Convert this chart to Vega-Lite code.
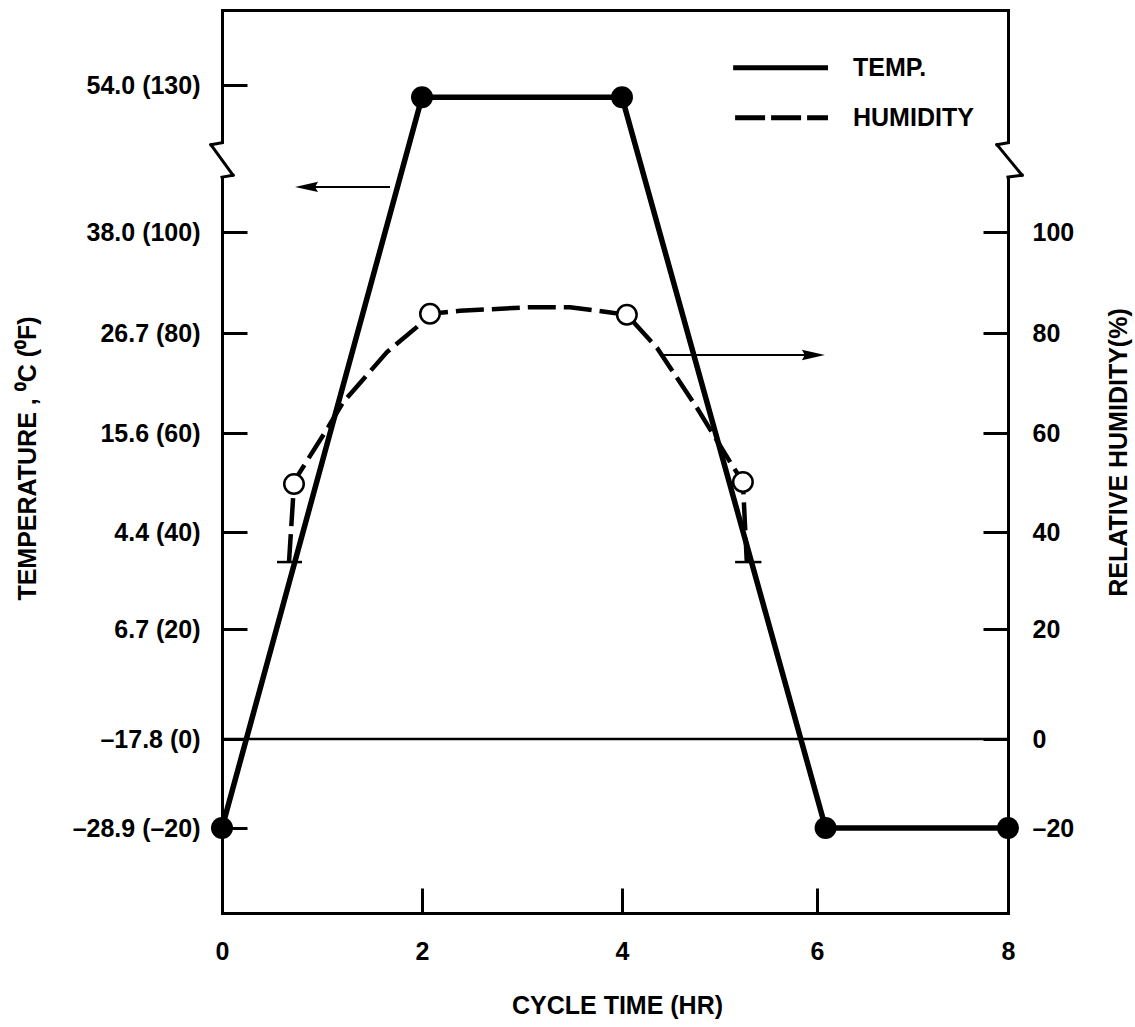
{
  "$schema": "https://vega.github.io/schema/vega-lite/v6.json",
  "width": 786,
  "height": 903,
  "autosize": {"type": "none"},
  "padding": {"left": 222, "top": 10, "right": 127, "bottom": 114},
  "background": "white",
  "config": {
    "view": {"stroke": null},
    "font": "Liberation Sans",
    "axis": {
      "labelFont": "Liberation Sans", "labelFontWeight": "bold", "labelFontSize": 25, "labelColor": "black",
      "titleFont": "Liberation Sans", "titleFontWeight": "bold", "titleFontSize": 25, "titleColor": "black",
      "domainColor": "black", "domainWidth": 3, "domainCap": "square",
      "tickColor": "black", "tickWidth": 3, "tickSize": -25,
      "grid": false, "labelOverlap": false, "labelFlush": false, "labelBound": false
    }
  },
  "datasets": {
    "temperature": [
      {"hr": 0, "temp": -20},
      {"hr": 2, "temp": 127.5},
      {"hr": 4, "temp": 127.5},
      {"hr": 6.09, "temp": -20},
      {"hr": 8, "temp": -20}
    ],
    "humidity_curve": [
      {"hr": 0.67, "rh": 33.8},
      {"hr": 0.72, "rh": 49.7},
      {"hr": 0.76, "rh": 51.5},
      {"hr": 1.06, "rh": 61.1},
      {"hr": 1.21, "rh": 66.1},
      {"hr": 1.65, "rh": 76.2},
      {"hr": 1.95, "rh": 81.2},
      {"hr": 2.08, "rh": 83.8},
      {"hr": 2.38, "rh": 84.4},
      {"hr": 3.08, "rh": 85.1},
      {"hr": 3.48, "rh": 85.1},
      {"hr": 3.83, "rh": 84.2},
      {"hr": 4.05, "rh": 83.6},
      {"hr": 4.36, "rh": 77.0},
      {"hr": 4.77, "rh": 65.0},
      {"hr": 5.11, "rh": 54.1},
      {"hr": 5.24, "rh": 50.1},
      {"hr": 5.28, "rh": 33.8}
    ],
    "humidity_measured": [
      {"hr": 0.72, "rh": 49.7},
      {"hr": 2.08, "rh": 83.8},
      {"hr": 4.05, "rh": 83.6},
      {"hr": 5.24, "rh": 50.1}
    ],
    "humidity_low": [
      {"hr_from": 0.55, "hr_to": 0.80, "rh": 33.8},
      {"hr_from": 5.16, "hr_to": 5.43, "rh": 33.8}
    ]
  },
  "layer": [
    {
      "data": {"name": "temperature"},
      "mark": {"type": "line", "color": "black", "strokeWidth": 5.5},
      "encoding": {
        "x": {
          "field": "hr", "type": "quantitative",
          "scale": {"domain": [0, 2, 4, 6, 8], "range": [0, 200, 400, 595, 786], "nice": false, "zero": false},
          "axis": {"orient": "bottom", "values": [0, 2, 4, 6, 8], "title": "CYCLE TIME (HR)", "labelPadding": 51,
                   "titleX": 395, "titleY": 92, "titleBaseline": "middle", "titleAlign": "center", "titleAnchor": null}
        },
        "y": {
          "field": "temp", "type": "quantitative",
          "scale": {"domain": [-38.9, -20, 0, 20, 40, 60, 80, 100, 130, 145.3], "range": [903, 818, 729, 619, 522, 423, 323, 222, 75, 0], "nice": false, "zero": false},
          "axis": {
            "orient": "left", "values": [130, 100, 80, 60, 40, 20, 0, -20],
            "labelExpr": "datum.value == 130 ? '54.0 (130)' : datum.value == 100 ? '38.0 (100)' : datum.value == 80 ? '26.7 (80)' : datum.value == 60 ? '15.6 (60)' : datum.value == 40 ? '4.4 (40)' : datum.value == 20 ? '6.7 (20)' : datum.value == 0 ? '–17.8 (0)' : '–28.9 (–20)'",
            "labelPadding": 47,
            "title": "TEMPERATURE , ⁰C (⁰F)",
            "titleX": -195, "titleY": 448, "titleAngle": 270, "titleBaseline": "middle", "titleAlign": "center", "titleAnchor": null
          }
        }
      }
    },
    {
      "data": {"name": "humidity_curve"},
      "mark": {"type": "line", "color": "black", "strokeWidth": 4.5, "strokeDash": [28, 8]},
      "encoding": {
        "x": {"field": "hr", "type": "quantitative", "axis": {"orient": "top", "labels": false, "ticks": false, "title": null, "domain": true}},
        "y": {
          "field": "rh", "type": "quantitative",
          "axis": {
            "orient": "right", "values": [100, 80, 60, 40, 20, 0, -20],
            "labelExpr": "datum.value < 0 ? '–' + (-datum.value) : '' + datum.value",
            "labelPadding": 49,
            "title": "RELATIVE HUMIDITY(%)",
            "titleX": 110, "titleY": 442, "titleAngle": 270, "titleBaseline": "middle", "titleAlign": "center", "titleAnchor": null
          }
        }
      }
    },
    {
      "data": {"values": [{}]},
      "mark": {"type": "rule", "color": "black", "strokeWidth": 2.5},
      "encoding": {"y": {"datum": 0, "type": "quantitative", "axis": null}}
    },
    {
      "data": {"values": [{}]},
      "mark": {"type": "rule", "color": "black", "strokeWidth": 2},
      "encoding": {
        "x": {"datum": 1.68, "type": "quantitative", "axis": null}, "x2": {"datum": 0.8},
        "y": {"datum": 109.2, "type": "quantitative", "axis": null}
      }
    },
    {
      "data": {"values": [{}]},
      "mark": {"type": "point", "shape": "M-1,0L1,-0.45L0.75,0L1,0.45Z", "filled": true, "color": "black", "opacity": 1, "size": 529},
      "encoding": {
        "x": {"datum": 0.845, "type": "quantitative", "axis": null},
        "y": {"datum": 109.2, "type": "quantitative", "axis": null}
      }
    },
    {
      "data": {"values": [{}]},
      "mark": {"type": "rule", "color": "black", "strokeWidth": 2},
      "encoding": {
        "x": {"datum": 4.41, "type": "quantitative", "axis": null}, "x2": {"datum": 5.98},
        "y": {"datum": 75.6, "type": "quantitative", "axis": null}
      }
    },
    {
      "data": {"values": [{}]},
      "mark": {"type": "point", "shape": "M1,0L-1,-0.45L-0.75,0L-1,0.45Z", "filled": true, "color": "black", "opacity": 1, "size": 529},
      "encoding": {
        "x": {"datum": 5.963, "type": "quantitative", "axis": null},
        "y": {"datum": 75.6, "type": "quantitative", "axis": null}
      }
    },
    {
      "data": {"name": "humidity_low"},
      "mark": {"type": "rule", "color": "black", "strokeWidth": 2.5},
      "encoding": {
        "x": {"field": "hr_from", "type": "quantitative", "axis": null}, "x2": {"field": "hr_to"},
        "y": {"field": "rh", "type": "quantitative", "axis": null}
      }
    },
    {
      "data": {"name": "temperature"},
      "mark": {"type": "point", "filled": true, "color": "black", "opacity": 1, "size": 484},
      "encoding": {
        "x": {"field": "hr", "type": "quantitative", "axis": null},
        "y": {"field": "temp", "type": "quantitative", "axis": null}
      }
    },
    {
      "data": {"name": "humidity_measured"},
      "mark": {"type": "point", "filled": false, "fill": "white", "stroke": "black", "strokeWidth": 2.5, "opacity": 1, "size": 380},
      "encoding": {
        "x": {"field": "hr", "type": "quantitative", "axis": null},
        "y": {"field": "rh", "type": "quantitative", "axis": null}
      }
    },
    {
      "data": {"values": [{}]},
      "mark": {"type": "rule", "color": "black", "strokeWidth": 5},
      "encoding": {
        "x": {"datum": 5.14, "type": "quantitative", "axis": null}, "x2": {"datum": 6.115},
        "y": {"datum": 133.5, "type": "quantitative", "axis": null}
      }
    },
    {
      "data": {"values": [{}]},
      "mark": {"type": "rule", "color": "black", "strokeWidth": 5, "strokeDash": [30, 6]},
      "encoding": {
        "x": {"datum": 5.16, "type": "quantitative", "axis": null}, "x2": {"datum": 6.115},
        "y": {"datum": 123.3, "type": "quantitative", "axis": null}
      }
    },
    {
      "data": {"values": [{}]},
      "mark": {"type": "text", "text": "TEMP.", "align": "left", "baseline": "middle", "font": "Liberation Sans", "fontWeight": "bold", "fontSize": 25, "color": "black"},
      "encoding": {
        "x": {"datum": 6.377, "type": "quantitative", "axis": null},
        "y": {"datum": 133.5, "type": "quantitative", "axis": null}
      }
    },
    {
      "data": {"values": [{}]},
      "mark": {"type": "text", "text": "HUMIDITY", "align": "left", "baseline": "middle", "font": "Liberation Sans", "fontWeight": "bold", "fontSize": 25, "color": "black"},
      "encoding": {
        "x": {"datum": 6.377, "type": "quantitative", "axis": null},
        "y": {"datum": 123.3, "type": "quantitative", "axis": null}
      }
    },
    {
      "data": {"values": [{}]},
      "mark": {"type": "rect", "color": "white", "opacity": 1},
      "encoding": {
        "x": {"datum": -0.03, "type": "quantitative", "axis": null}, "x2": {"datum": 0.03},
        "y": {"datum": 118.0, "type": "quantitative", "axis": null}, "y2": {"datum": 111.4}
      }
    },
    {
      "data": {"values": [{}]},
      "mark": {"type": "rect", "color": "white", "opacity": 1},
      "encoding": {
        "x": {"datum": 7.97, "type": "quantitative", "axis": null}, "x2": {"datum": 8.03},
        "y": {"datum": 118.0, "type": "quantitative", "axis": null}, "y2": {"datum": 111.4}
      }
    },
    {
      "data": {"values": [{}]},
      "mark": {"type": "rule", "color": "black", "strokeWidth": 3, "strokeCap": "square"},
      "encoding": {
        "x": {"datum": 0, "type": "quantitative", "axis": null}, "x2": {"datum": -0.11},
        "y": {"datum": 118.2, "type": "quantitative", "axis": null}, "y2": {"datum": 117.8}
      }
    },
    {
      "data": {"values": [{}]},
      "mark": {"type": "rule", "color": "black", "strokeWidth": 3, "strokeCap": "square"},
      "encoding": {
        "x": {"datum": -0.11, "type": "quantitative", "axis": null}, "x2": {"datum": 0.11},
        "y": {"datum": 117.8, "type": "quantitative", "axis": null}, "y2": {"datum": 111.6}
      }
    },
    {
      "data": {"values": [{}]},
      "mark": {"type": "rule", "color": "black", "strokeWidth": 3, "strokeCap": "square"},
      "encoding": {
        "x": {"datum": 0.11, "type": "quantitative", "axis": null}, "x2": {"datum": 0},
        "y": {"datum": 111.6, "type": "quantitative", "axis": null}, "y2": {"datum": 111.2}
      }
    },
    {
      "data": {"values": [{}]},
      "mark": {"type": "rule", "color": "black", "strokeWidth": 3, "strokeCap": "square"},
      "encoding": {
        "x": {"datum": 8, "type": "quantitative", "axis": null}, "x2": {"datum": 7.885},
        "y": {"datum": 118.2, "type": "quantitative", "axis": null}, "y2": {"datum": 117.8}
      }
    },
    {
      "data": {"values": [{}]},
      "mark": {"type": "rule", "color": "black", "strokeWidth": 3, "strokeCap": "square"},
      "encoding": {
        "x": {"datum": 7.885, "type": "quantitative", "axis": null}, "x2": {"datum": 8.147},
        "y": {"datum": 117.8, "type": "quantitative", "axis": null}, "y2": {"datum": 111.6}
      }
    },
    {
      "data": {"values": [{}]},
      "mark": {"type": "rule", "color": "black", "strokeWidth": 3, "strokeCap": "square"},
      "encoding": {
        "x": {"datum": 8.147, "type": "quantitative", "axis": null}, "x2": {"datum": 8},
        "y": {"datum": 111.6, "type": "quantitative", "axis": null}, "y2": {"datum": 111.2}
      }
    }
  ],
  "resolve": {"scale": {"x": "shared", "y": "shared"}, "axis": {"x": "independent", "y": "independent"}}
}
